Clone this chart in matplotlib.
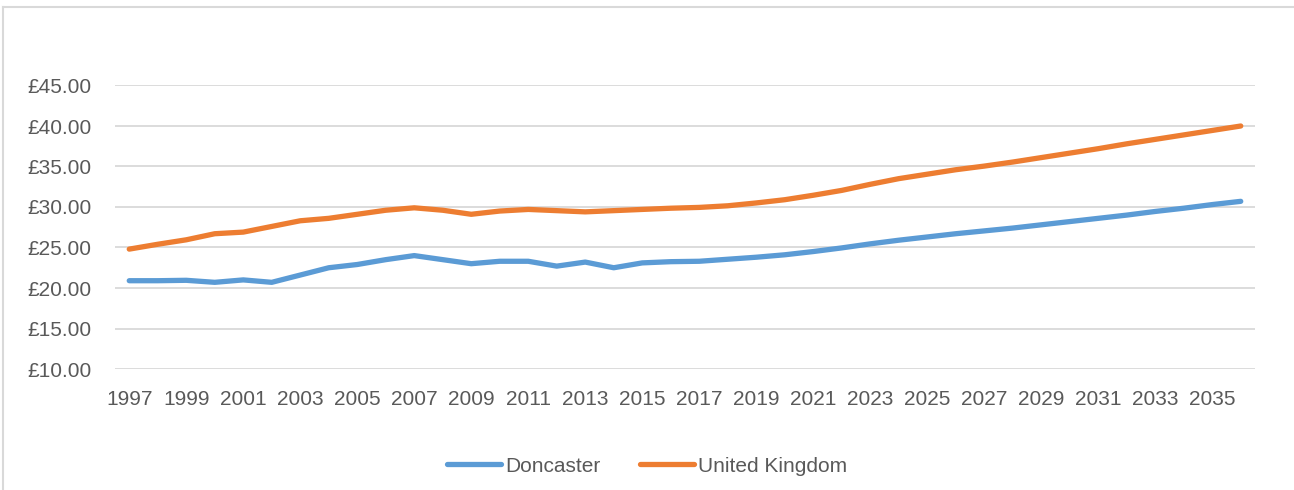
import matplotlib.pyplot as plt
from matplotlib.lines import Line2D
from matplotlib.ticker import FuncFormatter

# 数据
years = list(range(1997, 2037))
doncaster = [20.9, 20.9, 20.95, 20.7, 21.0, 20.7, 21.6, 22.5, 22.9, 23.5,
             24.0, 23.5, 23.0, 23.3, 23.3, 22.7, 23.2, 22.5, 23.1, 23.25,
             23.3, 23.55, 23.8, 24.1, 24.5, 24.95, 25.45, 25.9, 26.3, 26.7,
             27.05, 27.4, 27.8, 28.2, 28.6, 29.0, 29.45, 29.85, 30.3, 30.7]
uk = [24.8, 25.4, 25.95, 26.7, 26.9, 27.6, 28.3, 28.6, 29.1, 29.6,
      29.9, 29.6, 29.1, 29.5, 29.7, 29.55, 29.4, 29.55, 29.7, 29.85,
      29.95, 30.15, 30.5, 30.9, 31.45, 32.05, 32.8, 33.5, 34.05, 34.6,
      35.05, 35.55, 36.1, 36.65, 37.2, 37.8, 38.35, 38.9, 39.45, 40.0]
y_ticks = [10, 15, 20, 25, 30, 35, 40, 45]

BLUE = '#5B9BD5'
ORANGE = '#ED7D31'
GRID = '#D9D9D9'
TEXT = '#595959'
FS = 15

plt.rcParams['font.family'] = ['Liberation Sans', 'DejaVu Sans']

fig = plt.figure(figsize=(12.94, 4.9), dpi=100)
ax = fig.add_axes([115 / 1294, 121 / 490, 1140 / 1294, 283.5 / 490])

x = list(range(len(years)))
ax.plot(x, doncaster, color=BLUE, lw=3.8, solid_capstyle='round', solid_joinstyle='round')
ax.plot(x, uk, color=ORANGE, lw=3.8, solid_capstyle='round', solid_joinstyle='round')

ax.set_xlim(-0.5, len(years) - 0.5)
ax.set_ylim(10, 45)
ax.set_yticks(y_ticks)
ax.yaxis.set_major_formatter(FuncFormatter(lambda v, p: f'£{v:.2f}'))
ax.set_xticks(x[::2])
ax.set_xticklabels([str(y) for y in years[::2]])

ax.grid(True, axis='y', color=GRID, lw=1.3)
ax.set_axisbelow(True)
for s in ax.spines.values():
    s.set_visible(False)
ax.tick_params(axis='both', length=0, labelsize=FS, colors=TEXT)
ax.tick_params(axis='y', pad=17)
ax.tick_params(axis='x', pad=15)

# 图例
handles = [Line2D([], [], color=BLUE, lw=3.8, solid_capstyle='round'),
           Line2D([], [], color=ORANGE, lw=3.8, solid_capstyle='round')]
fig.legend(handles, ['Doncaster', 'United Kingdom'], loc='center',
           bbox_to_anchor=(647 / 1294, 1 - 466 / 490), ncol=2, frameon=False,
           fontsize=FS, labelcolor=TEXT, handlelength=2.6, handletextpad=0.2,
           columnspacing=1.9)

# 外框
fig.add_artist(Line2D([3 / 1294, 1.0], [1 - 7 / 490, 1 - 7 / 490], color=GRID, lw=1.5,
                      transform=fig.transFigure))
fig.add_artist(Line2D([3 / 1294, 3 / 1294], [0, 1 - 7 / 490], color=GRID, lw=1.5,
                      transform=fig.transFigure))

fig.savefig('out.png', dpi=100)
